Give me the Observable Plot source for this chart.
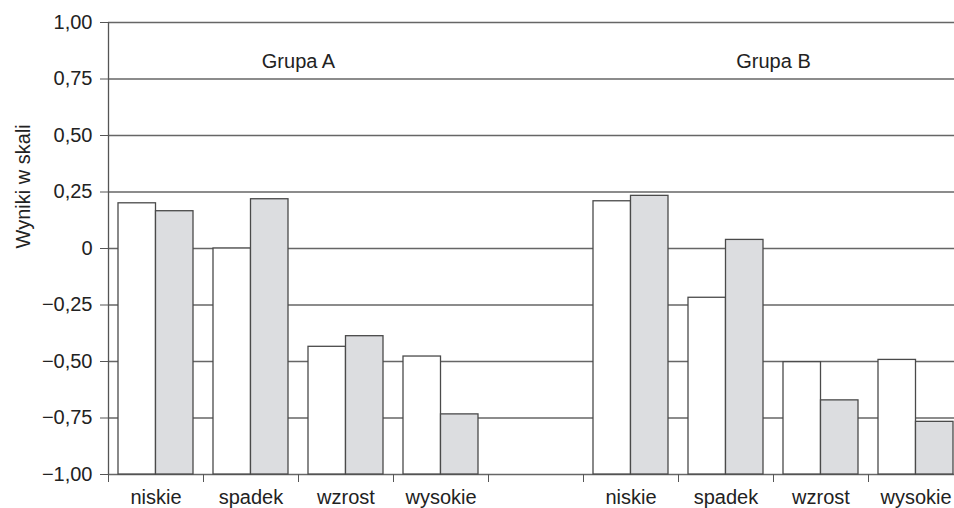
<!DOCTYPE html>
<html><head><meta charset="utf-8">
<script src="https://cdn.jsdelivr.net/npm/d3@7"></script>
<script src="https://cdn.jsdelivr.net/npm/@observablehq/plot@0.6"></script>
<style>
html,body{margin:0;padding:0;background:#fff;}
#chart{width:954px;height:508px;overflow:hidden;}
#chart svg{max-width:none !important;}
</style></head><body><div id="chart"></div>
<script>
// slot labels along the x axis (empty slot separates the two groups)
const slotLabels = ["niskie","spadek","wzrost","wysokie","","niskie","spadek","wzrost","wysokie"];
const groupLabels = ["Grupa A","Grupa B"];
const groupStart = [0, 5];
const categories = ["niskie","spadek","wzrost","wysokie"];
// values
const groupAWhite = [0.20, 0.00, -0.435, -0.478];
const groupAGray  = [0.165, 0.218, -0.388, -0.734];
const groupBWhite = [0.209, -0.218, -0.503, -0.493];
const groupBGray  = [0.233, 0.038, -0.672, -0.767];
const yTicks = [-1, -0.75, -0.5, -0.25, 0, 0.25, 0.5, 0.75, 1];

const series = [[groupAWhite, groupAGray], [groupBWhite, groupBGray]];
const whiteRows = [], grayRows = [];
series.forEach(([w, g], gi) => {
  categories.forEach((c, i) => {
    whiteRows.push({slot: groupStart[gi] + i, category: c, value: w[i]});
    grayRows.push({slot: groupStart[gi] + i, category: c, value: g[i]});
  });
});
const yMin = yTicks[0];
const fmt = d => d === 0 ? "0" : d3.format(".2f")(d).replace(".", ",");
const labelTicks = slotLabels.map((l, i) => i + 0.5).filter((t, i) => slotLabels[i] !== "");
const boundaryTicks = d3.range(0, slotLabels.length + 1);
const groupRows = groupLabels.map((g, i) => ({label: g, x: groupStart[i] + categories.length / 2}));

const chart = Plot.plot({
  width: 963, height: 508,
  marginLeft: 108, marginRight: 0, marginTop: 22, marginBottom: 34,
  x: {domain: [0, slotLabels.length], label: null},
  y: {domain: [yMin, 1], label: null},
  style: {fontFamily: "'Liberation Sans', Arial, sans-serif", fontSize: "20px", color: "#222", background: "#fff"},
  marks: [
    Plot.ruleY(yTicks, {stroke: "#666", strokeWidth: 1.3}),
    Plot.rectY(whiteRows, {x1: "slot", x2: d => d.slot + 0.5, y1: yMin, y2: "value", fill: "#fff", stroke: "#4a4a4a", strokeWidth: 1.3, insetLeft: 10}),
    Plot.rectY(grayRows, {x1: d => d.slot + 0.5, x2: d => d.slot + 1, y1: yMin, y2: "value", fill: "#dcdde0", stroke: "#4a4a4a", strokeWidth: 1.3, insetRight: 10}),
    Plot.ruleX([0], {y1: yMin, y2: 1, stroke: "#555", strokeWidth: 1.3}),
    Plot.axisY(yTicks, {tickSize: 8, tickPadding: 8, tickFormat: fmt, stroke: "#555", fill: "#222", fontSize: 20}),
    Plot.axisX(boundaryTicks, {tickSize: 8, tickFormat: () => "", stroke: "#555"}),
    Plot.axisX(labelTicks, {tickSize: 0, tickPadding: 15, tickFormat: d => slotLabels[Math.floor(d)], fill: "#222", fontSize: 20}),
    Plot.text(groupRows, {x: "x", text: "label", frameAnchor: "top", dy: 39, lineAnchor: "middle", fill: "#222", fontSize: 20}),
    Plot.text(["Wyniki w skali"], {frameAnchor: "left", rotate: -90, dx: -85, fill: "#222", fontSize: 20})
  ]
});
document.getElementById("chart").appendChild(chart);
</script>
</body></html>
